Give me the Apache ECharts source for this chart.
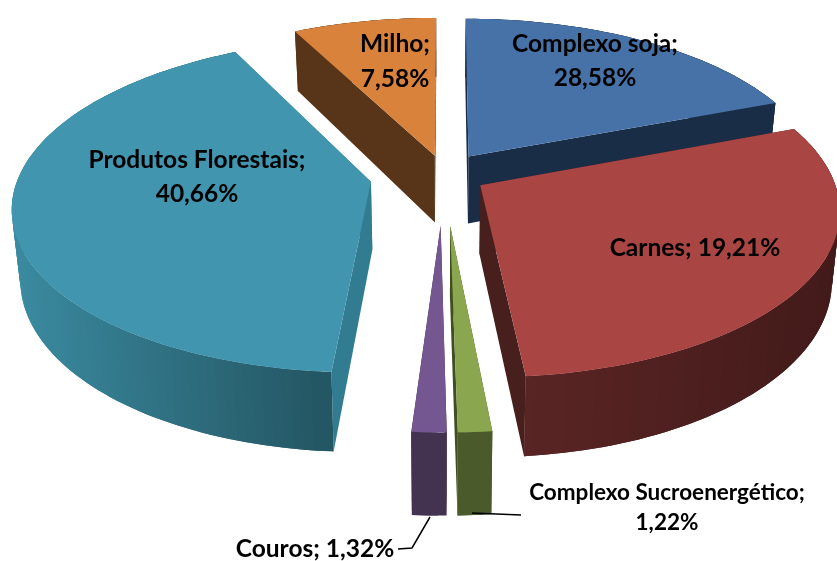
<!DOCTYPE html>
<html>
<head>
<meta charset="utf-8">
<style>
  html, body { margin: 0; padding: 0; background: #fff; }
  #chart { width: 837px; height: 561px; }
</style>
<script src="https://cdn.jsdelivr.net/npm/echarts@6/dist/echarts.min.js"></script>
</head>
<body>
<div id="chart"></div>
<script>
// slices in clockwise order from 12 o'clock
const categories = ['Complexo soja', 'Carnes', 'Complexo Sucroenergético', 'Couros', 'Produtos Florestais', 'Milho']
// the printed percentages
const labelValues = ['28,58%', '19,21%', '1,22%', '1,32%', '40,66%', '7,58%']
// the arcs as measured on the picture, soja and carnes look swapped compared to their labels
const arcShares = [19.14, 29.33, 1.28, 1.31, 41.39, 7.56]

// one entry per slice, same order as categories
const explode = [0.14, 0.12, 0.3, 0.3, 0.205, 0.125]
const nudgeX = [0, 3, 3, 2.5, 1, 4]
const topColors = ['#4672a8', '#a94543', '#8aa64f', '#745790', '#4195af', '#d9823c']
const faceColors = ['#1a2d46', '#471f1c', '#3f5020', '#352842', '#327c92', '#583418']
const wallColors = [
  ['#1a2d46', '#1a2d46'],
  ['#5a2524', '#431b1a'],
  ['#4b5a2a', '#4b5a2a'],
  ['#433351', '#433351'],
  ['#3b8ba1', '#245663'],
  ['#583418', '#583418']
]
const drawOrder = [5, 0, 1, 4, 3, 2]

// perspective of the disc
const cx = 441
const cy = 175
const radiusX = 352
const radiusY = 162
const persp = 0.14
const depth = 68
const startDeg = 0.1

function project (x, y, low) {
  const s = 1 / (1 - persp * y)
  let px = x * radiusX * s
  let py = y * radiusY * s
  if (low) {
    px *= 0.98
    py += depth * s
  }
  return [cx + px, cy + py]
}

function renderSlice (params, api) {
  const i = api.value(0)
  const from = (api.value(1) * 360 + startDeg) * Math.PI / 180
  const to = (api.value(2) * 360 + startDeg) * Math.PI / 180
  const mid = (from + to) / 2
  const ax = explode[i] * Math.sin(mid) + nudgeX[i] / radiusX
  const ay = -explode[i] * Math.cos(mid)
  const steps = Math.max(4, Math.ceil((to - from) * 40))

  const topArc = []
  const lowArc = []
  for (let k = 0; k <= steps; k++) {
    const a = from + (to - from) * k / steps
    const x = ax + Math.sin(a)
    const y = ay - Math.cos(a)
    topArc.push(project(x, y, false))
    lowArc.push(project(x, y, true))
  }
  const apex = project(ax, ay, false)
  const apexLow = project(ax, ay, true)

  const face = (top, low) => ({
    type: 'polygon',
    shape: { points: [apex, top, low, apexLow] },
    style: { fill: faceColors[i] }
  })

  // outer wall as narrow strips, shaded from left to right.
  // each strip runs over the next one so no seam shows
  const xs = lowArc.map(p => p[0])
  const minX = Math.min(...xs)
  const spanX = Math.max(...xs) - minX
  const strips = []
  for (let k = steps - 1; k >= 0; k--) {
    const end = Math.min(k + 2, steps)
    const t = (lowArc[k][0] + lowArc[k + 1][0]) / 2
    strips.push({
      type: 'polygon',
      shape: { points: [topArc[k], topArc[k + 1], topArc[end], lowArc[end], lowArc[k + 1], lowArc[k]] },
      style: { fill: echarts.color.lerp((t - minX) / spanX, wallColors[i]) }
    })
  }

  return {
    type: 'group',
    children: [
      face(topArc[0], lowArc[0]),
      face(topArc[steps], lowArc[steps]),
      ...strips,
      {
        type: 'polygon',
        shape: { points: [apex].concat(topArc) },
        style: { fill: topColors[i] }
      }
    ]
  }
}

// cumulative start and end of every slice, as part of the whole
const arcTotal = arcShares.reduce((a, b) => a + b, 0)
let running = 0
const sliceRows = categories.map((name, i) => {
  const row = [i, running / arcTotal, (running + arcShares[i]) / arcTotal]
  running += arcShares[i]
  return row
})

function label (i, x, y, sep, size, lineHeight) {
  return {
    type: 'text',
    x: x,
    y: y,
    z: 10,
    style: {
      text: categories[i] + ';' + sep + labelValues[i],
      fontFamily: 'Lato',
      fontWeight: 'bold',
      fontSize: size,
      lineHeight: lineHeight,
      fill: '#000',
      textAlign: 'center',
      textVerticalAlign: 'middle'
    }
  }
}

function leader (points) {
  return {
    type: 'polyline',
    z: 10,
    shape: { points: points },
    style: { stroke: '#000', lineWidth: 1.5, fill: null }
  }
}

const chart = echarts.init(document.getElementById('chart'), null, { renderer: 'canvas' })
chart.setOption({
  animation: false,
  backgroundColor: '#fff',
  series: [{
    type: 'custom',
    coordinateSystem: 'none',
    silent: true,
    data: drawOrder.map(i => sliceRows[i]),
    renderItem: renderSlice
  }],
  graphic: [
    label(0, 595, 61, '\n', 24.5, 34),
    label(1, 695, 248, ' ', 24.5, 34),
    label(2, 667, 508, '\n', 22.5, 30),
    label(3, 315, 549, ' ', 24.5, 30),
    label(4, 197, 177, '\n', 24.5, 34),
    label(5, 395, 62, '\n', 24.5, 35),
    leader([[472, 513], [521, 515]]),
    leader([[430, 517], [412, 548], [398, 549]])
  ]
})
</script>
</body>
</html>
